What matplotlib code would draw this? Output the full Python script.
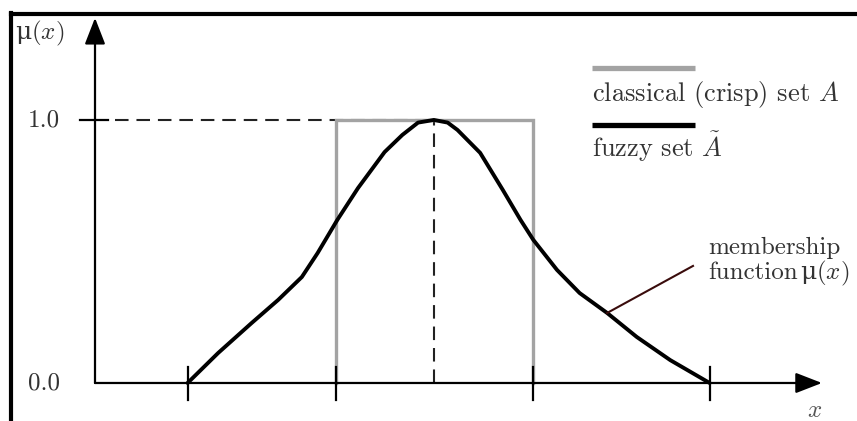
#!/usr/bin/env python3
"""Crisp vs fuzzy set membership sketch."""

import matplotlib.pyplot as plt
from matplotlib.lines import Line2D

plt.rcParams["mathtext.fontset"] = "cm"
plt.rcParams["font.family"] = ["cmr10", "DejaVu Serif"]
plt.rcParams["axes.formatter.use_mathtext"] = True

# x-axis tick marks (support edges of the fuzzy set and the crisp interval)
tick_x = [0.94, 2.45, 4.45, 6.24]
peak_x = 3.44

# classical (crisp) set A
crisp_x = [2.45, 2.45, 4.45, 4.45]
crisp_y = [0.0, 1.0, 1.0, 0.0]

# fuzzy membership function
curve_x = [0.94, 1.25, 1.59, 1.86, 2.10, 2.26, 2.46, 2.67, 2.94, 3.12, 3.28, 3.44,
           3.58, 3.68, 3.91, 4.14, 4.32, 4.45, 4.69, 4.92, 5.20, 5.50, 5.84, 6.24]
curve_y = [0.0, 0.114, 0.228, 0.316, 0.403, 0.494, 0.62, 0.741, 0.878, 0.943, 0.99, 1.0,
           0.99, 0.962, 0.875, 0.734, 0.62, 0.544, 0.43, 0.342, 0.266, 0.175, 0.087, 0.0]

y_ticks = [0.0, 1.0]
y_labels = ["0.0", "1.0"]

FS = 18
MU = "\u03bc"
TXT = "#333333"


def main() -> None:
    fig = plt.figure(figsize=(8.57, 4.21), dpi=100)
    fig.patch.set_facecolor("white")
    ax = fig.add_axes([0, 0, 1, 1])
    ax.set_xlim(-0.9645, 7.736)
    ax.set_ylim(-0.1445, 1.456)
    ax.axis("off")

    # screenshot frame
    fig.add_artist(Line2D([0.0128, 0.0128], [0, 0.969], color="black", lw=3, transform=fig.transFigure))
    fig.add_artist(Line2D([0.0128, 1], [0.967, 0.967], color="black", lw=3, transform=fig.transFigure))

    # axes with arrows
    arrow = dict(arrowstyle="-|>,head_length=0.9,head_width=0.35", lw=1.6, color="black",
                 shrinkA=0, shrinkB=0, mutation_scale=18)
    ax.annotate("", xy=(7.38, 0), xytext=(0, 0), arrowprops=arrow)
    ax.annotate("", xy=(0, 1.388), xytext=(0, 0), arrowprops=arrow)

    # guides to the peak
    ax.plot([0.2, peak_x], [1, 1], color="#222222", lw=1.5, ls=(0, (6.5, 3.8)))
    ax.plot([peak_x, peak_x], [0, 1], color="#222222", lw=1.5, ls=(0, (6.5, 3.8)))

    ax.plot(crisp_x, crisp_y, color="#a3a3a3", lw=2.4, solid_joinstyle="miter")
    ax.plot(curve_x, curve_y, color="black", lw=2.8, solid_capstyle="round", solid_joinstyle="round")

    for tx in tick_x:
        ax.plot([tx, tx], [-0.065, 0.06], color="black", lw=1.6)
    ax.plot([-0.152, 0.132], [1, 1], color="black", lw=1.6)

    for yv, lab in zip(y_ticks, y_labels):
        ax.text(-0.52, yv, lab, ha="center", va="center", fontsize=FS, color=TXT)
    ax.text(-0.56, 1.327, MU + "$(x)$", ha="center", va="center", fontsize=FS, color=TXT,
            family="DejaVu Serif")
    ax.text(7.31, -0.105, "$x$", ha="center", va="center", fontsize=FS, color="#555555")

    # legend drawn by hand
    ax.plot([5.046, 6.091], [1.198, 1.198], color="#a3a3a3", lw=3.8, solid_capstyle="butt")
    ax.text(5.046, 1.095, "classical (crisp) set $A$", ha="left", va="center", fontsize=FS + 1, color=TXT)
    ax.plot([5.046, 6.091], [0.981, 0.981], color="black", lw=3.8, solid_capstyle="butt")
    ax.text(5.046, 0.897, r"fuzzy set $\tilde{A}$", ha="left", va="center", fontsize=FS + 1, color=TXT)

    # annotation
    ax.plot([5.198, 6.071], [0.266, 0.445], color="#3a0c0c", lw=1.5)
    ax.text(6.223, 0.49, "membership", ha="left", va="baseline", fontsize=FS, color=TXT)
    t = ax.text(6.223, 0.395, "function", ha="left", va="baseline", fontsize=FS, color=TXT)
    fig.canvas.draw()
    bb = t.get_window_extent()
    x_end, _ = ax.transData.inverted().transform((bb.x1 + 2, bb.y0))
    ax.text(x_end, 0.395, MU + "$(x)$", ha="left", va="baseline", fontsize=FS, color=TXT,
            family="DejaVu Serif")

    fig.savefig("out.png", dpi=100, facecolor="white")
    plt.close(fig)


if __name__ == "__main__":
    main()
